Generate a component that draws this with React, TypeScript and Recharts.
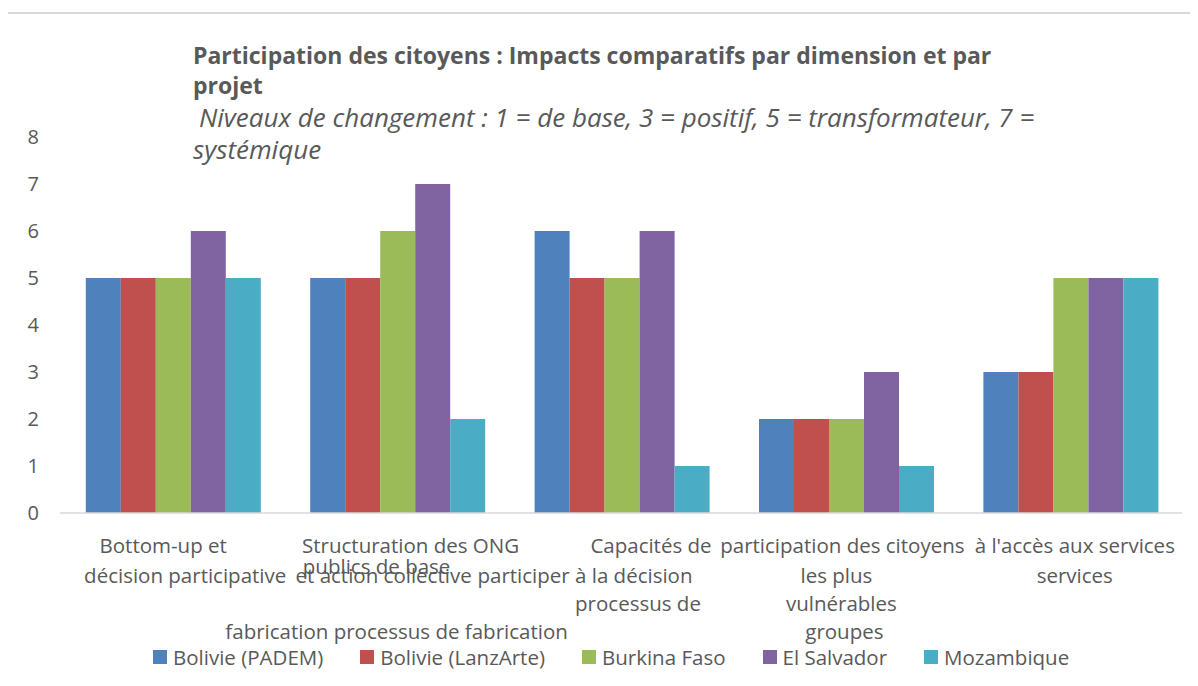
import { Bar, BarChart, Legend, XAxis, YAxis } from "recharts";

const categories = ["cat1", "cat2", "cat3", "cat4", "cat5"];

// tick label fragments, one list per category (as they sit in the source export)
const labelLines: string[][] = [
  ["Bottom-up et", "décision participative"],
  ["Structuration des ONG", "publics de base", "et action collective", "fabrication processus de fabrication"],
  ["Capacités de", "participer à la décision", "processus de"],
  ["participation des citoyens", "les plus", "vulnérables", "groupes"],
  ["à l'accès aux services", "services"],
];

const padem = [5, 5, 6, 2, 3];
const lanzarte = [5, 5, 5, 2, 3];
const burkina = [5, 6, 5, 2, 5];
const salvador = [6, 7, 6, 3, 5];
const mozambique = [5, 2, 1, 1, 5];

const seriesNames = ["Bolivie (PADEM)", "Bolivie (LanzArte)", "Burkina Faso", "El Salvador", "Mozambique"];
const yTicks = [0, 1, 2, 3, 4, 5, 6, 7, 8];

const colors = ["#4F81BD", "#C0504D", "#9BBB59", "#8064A2", "#4BACC6"];
const keys = ["padem", "lanzarte", "burkina", "salvador", "mozambique"];
const textColor = "#595959";
const font = "'Open Sans', sans-serif";

const data = categories.map((c, i) => ({
  name: c,
  padem: padem[i],
  lanzarte: lanzarte[i],
  burkina: burkina[i],
  salvador: salvador[i],
  mozambique: mozambique[i],
}));

// [dx from tick centre, baseline below axis] for each fragment
const labelLayout: [number, number][][] = [
  [[-9, 40], [13, 70]],
  [[14, 40], [-20, 61], [-13, 70], [0, 126]],
  [[30, 40], [-36, 70], [17, 98]],
  [[-3, 40], [-9, 70], [-4, 98], [-1, 126]],
  [[5, 40], [5, 70]],
];

function CategoryTick(props: any) {
  const { x, y, payload } = props;
  const idx = payload.index;
  const lines = labelLines[idx] || [];
  return (
    <g>
      {lines.map((t, i) => {
        const [dx, dy] = labelLayout[idx][i];
        return (
          <text
            key={i}
            x={x + dx}
            y={y - 8 + dy}
            textAnchor="middle"
            fill={textColor}
            fontSize={20.5}
            fontFamily={font}
          >
            {t}
          </text>
        );
      })}
    </g>
  );
}

function LegendRow() {
  return (
    <div style={{ display: "flex", paddingLeft: 153, gap: 37, fontFamily: font, fontSize: 20.5, color: textColor, whiteSpace: "nowrap" }}>
      {seriesNames.map((n, i) => (
        <span key={n} style={{ display: "flex", alignItems: "center" }}>
          <span style={{ width: 14, height: 14, background: colors[i], marginRight: 6, display: "inline-block" }} />
          {n}
        </span>
      ))}
    </div>
  );
}

export default function App() {
  return (
    <div style={{ position: "relative", width: 1198, height: 686, margin: -8, overflow: "hidden", background: "#fff" }}>
      <div
        style={{
          position: "absolute",
          left: 6,
          top: 12,
          width: 1400,
          height: 900,
          borderLeft: "2px solid #D9D9D9",
          borderTop: "2px solid #D9D9D9",
        }}
      />
      <div style={{ position: "absolute", left: 0, top: 0 }}>
        <BarChart
          width={1198}
          height={686}
          data={data}
          margin={{ top: 137, right: 16, left: 20, bottom: 43 }}
          barCategoryGap="11.5%"
          barGap={0}
        >
          <YAxis
            domain={[0, 8]}
            ticks={yTicks}
            width={40}
            axisLine={false}
            tickLine={false}
            tickMargin={15}
            tick={{ fill: textColor, fontSize: 20, fontFamily: font }}
          />
          <XAxis
            dataKey="name"
            height={130}
            axisLine={{ stroke: "#D9D9D9", strokeWidth: 1.5 }}
            tickLine={false}
            interval={0}
            tick={<CategoryTick />}
          />
          <Legend
            layout="horizontal"
            verticalAlign="middle"
            wrapperStyle={{ top: 643, left: 0, width: 1198 }}
            content={() => <LegendRow />}
          />
          {keys.map((k, i) => (
            <Bar key={k} dataKey={k} name={seriesNames[i]} fill={colors[i]} isAnimationActive={false} />
          ))}
        </BarChart>
      </div>
      <div style={{ position: "absolute", left: 193, top: 40, fontFamily: font, fontWeight: 700, fontSize: 23, lineHeight: "30px", color: textColor, width: 830 }}>
        Participation des citoyens : Impacts comparatifs par dimension et par projet
      </div>
      <div style={{ position: "absolute", left: 193, top: 101, fontFamily: font, fontStyle: "italic", fontSize: 26, lineHeight: "32px", color: textColor, width: 880, textIndent: 6 }}>
        Niveaux de changement : 1 = de base, 3 = positif, 5 = transformateur, 7 = systémique
      </div>
    </div>
  );
}
